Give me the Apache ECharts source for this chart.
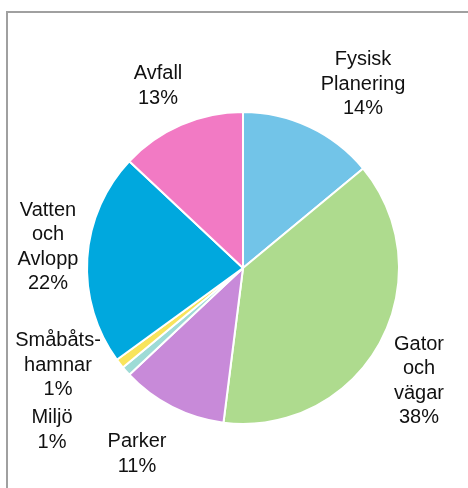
<!DOCTYPE html>
<html>
<head>
<meta charset="utf-8">
<script src="https://cdn.jsdelivr.net/npm/echarts@6/dist/echarts.min.js"></script>
<style>
html,body{margin:0;padding:0;background:#fff;}
#chart{width:468px;height:488px;}
</style>
</head>
<body>
<div id="chart"></div>
<script>
var categories = ['Fysisk\nPlanering', 'Gator\noch\nvägar', 'Parker', 'Miljö', 'Småbåts-\nhamnar', 'Vatten\noch\nAvlopp', 'Avfall'];
var values = [14, 38, 11, 1, 1, 22, 13];
var colors = ['#72C4E8', '#AEDB8E', '#C88AD9', '#9EDBD6', '#F8E45C', '#00A8DE', '#F27AC4'];
var labelPos = [[363, 84], [419, 381], [137, 454], [52, 430], [58, 365], [48, 247], [158, 86]];

var chart = echarts.init(document.getElementById('chart'));
chart.setOption({
  animation: false,
  graphic: [{
    type: 'rect',
    shape: {x: 7, y: 12, width: 480, height: 500},
    style: {fill: 'none', stroke: '#A0A0A0', lineWidth: 2},
    silent: true,
    z: -1
  }],
  series: [{
    type: 'pie',
    center: [243, 268],
    radius: [0, 156],
    startAngle: 90,
    clockwise: true,
    data: categories.map(function (c, i) {
      return {name: c, value: values[i], itemStyle: {color: colors[i]}};
    }),
    itemStyle: {borderColor: '#fff', borderWidth: 2},
    label: {
      show: true,
      position: 'outside',
      formatter: function (p) { return p.name + '\n' + Math.round(p.percent) + '%'; },
      fontFamily: 'Liberation Sans, Arial, sans-serif',
      fontSize: 20,
      lineHeight: 24.5,
      color: '#111',
      align: 'center',
      overflow: 'none',
      width: 200
    },
    labelLine: {show: false},
    labelLayout: function (p) {
      var pos = labelPos[p.dataIndex];
      return {x: pos[0], y: pos[1], align: 'center', verticalAlign: 'middle'};
    }
  }]
});
</script>
</body>
</html>
